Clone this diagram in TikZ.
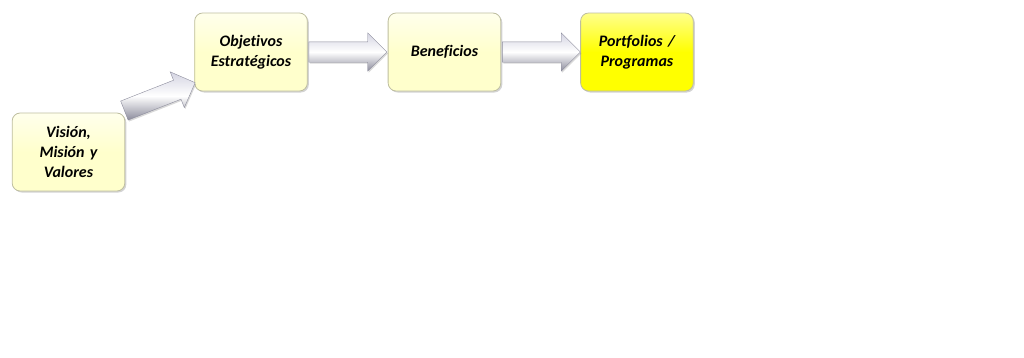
\documentclass[tikz,border=0pt]{standalone}
\usepackage{fontspec}
\setmainfont[Ligatures=NoCommon]{Carlito}
\usetikzlibrary{shapes.arrows, positioning, calc, shadows}

\definecolor{paleyellow}{RGB}{255,255,204}
\definecolor{paleyellowtop}{RGB}{255,255,236}
\definecolor{strongyellow}{RGB}{255,255,0}
\definecolor{strongyellowtop}{RGB}{255,255,140}
\definecolor{boxborder}{RGB}{190,190,160}
\definecolor{arrowtop}{RGB}{212,212,226}
\definecolor{arrowbottom}{RGB}{140,140,156}

\begin{document}
\begin{tikzpicture}[
      x=1pt, y=-1pt,
      node distance=80pt,
      stage/.style={rectangle, draw=boxborder, thick, rounded corners=8pt, minimum width=112pt, minimum height=78pt,
        text width=106pt, align=center, font=\fontsize{16}{20}\selectfont\bfseries\itshape,
        top color=paleyellowtop, bottom color=paleyellow, middle color=paleyellow,
        drop shadow={shadow xshift=1.5pt, shadow yshift=-1.5pt, opacity=0.35}},
      goal/.style={stage, top color=strongyellowtop, bottom color=strongyellow, middle color=strongyellow},
      garrow/.style={single arrow, draw=arrowbottom, thin, inner sep=10pt, single arrow head extend=9pt,
        single arrow tip angle=90, anchor=tail,
        top color=arrowtop, bottom color=arrowbottom, middle color=white,
        drop shadow={shadow xshift=1pt, shadow yshift=-1.5pt, opacity=0.3}}
    ]
    \useasboundingbox (0,0) rectangle (1024,357);

    \node[stage] (vis) at (68.5,152) {Visión,\\Misión y\\Valores};
    \node[stage] (obj) at (251,52) {Objetivos\\Estratégicos};
    \node[stage, right=of obj] (ben) {Beneficios};
    \node[goal, right=79pt of ben] (port) {Portfolios /\\Programas};

    % block arrows between the stages
    \node[garrow, rotate=21.5, minimum height=76pt] (a0) at ($(vis.north east)+(-1pt,2pt)$) {};
    \node[garrow, minimum height=78pt] (a1) at ($(obj.east)+(1pt,0pt)$) {};
    \node[garrow, minimum height=78pt] (a2) at ($(ben.east)+(1pt,0pt)$) {};
  \end{tikzpicture}
\end{document}
